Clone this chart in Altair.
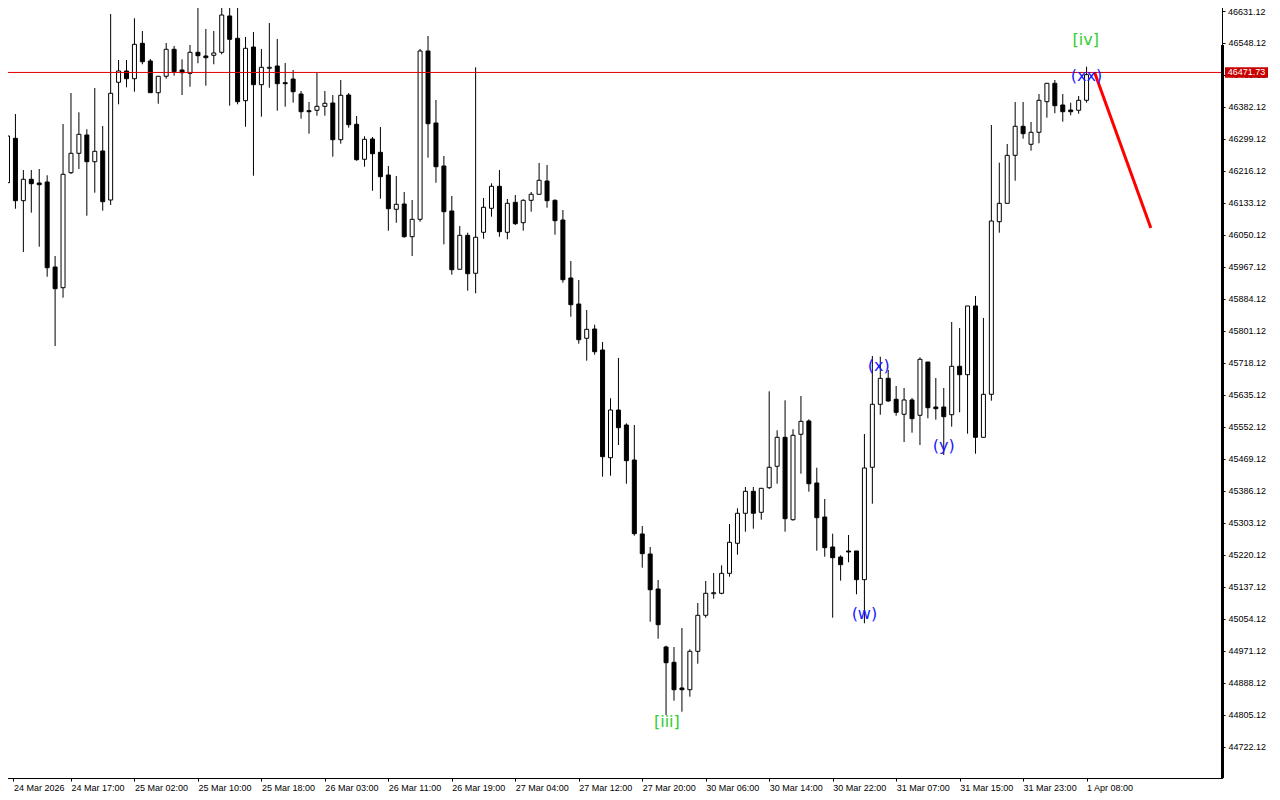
import altair as alt
import pandas as pd

# ---- hourly candles (index 0 .. 136) ----
opens = [46185.8, 46300.9, 46139.1, 46194.6, 46185.0, 46187.6, 45967.1, 45913.4, 46211.7, 46262.0,
         46309.5, 46240.2, 46268.0, 46140.9, 46446.2, 46475.5, 46455.5, 46547.3, 46501.4, 46419.2,
         46461.8, 46531.8, 46478.1, 46469.5, 46524.0, 46514.4, 46516.2, 46524.0, 46618.2, 46560.3,
         46398.5, 46537.7, 46440.0, 46482.5, 46488.5, 46445.2, 46454.7, 46415.8, 46372.5, 46373.6,
         46383.9, 46392.5, 46297.3, 46413.2, 46337.3, 46246.5, 46299.1, 46264.6, 46205.7, 46116.8,
         46130.5, 46045.7, 46090.8, 46527.4, 46340.6, 46229.1, 46112.4, 45961.2, 46049.3, 45950.8,
         46057.1, 46119.4, 46176.4, 46057.1, 46134.9, 46082.0, 46140.1, 46155.7, 46190.2, 46140.1,
         46089.0, 45938.6, 45871.1, 45782.2, 45806.3, 45751.8, 45472.5, 45596.2, 45557.3, 45466.5,
         45274.6, 45222.7, 45131.9, 44981.5, 44941.8, 44875.2, 44870.7, 44970.3, 45063.7, 45119.7,
         45120.8, 45172.6, 45250.5, 45328.3, 45385.3, 45330.9, 45394.7, 45450.2, 45525.4, 45311.7,
         45533.2, 45567.7, 45406.9, 45318.7, 45240.9, 45214.9, 45230.5, 45230.5, 45156.1, 45447.6,
         45611.0, 45678.4, 45624.0, 45585.1, 45622.2, 45582.5, 45720.7, 45604.0, 45604.0, 45584.0,
         45709.6, 45687.8, 45866.0, 45525.4, 45636.9, 46084.6, 46132.3, 46256.8, 46332.1, 46285.4,
         46316.5, 46395.9, 46443.6, 46387.3, 46374.3, 46373.6, 46399.5]
highs = [46353.6, 46364.0, 46218.7, 46218.7, 46221.3, 46205.0, 45995.6, 46338.0, 46418.4, 46368.4,
         46324.3, 46431.4, 46332.8, 46623.3, 46504.0, 46504.0, 46612.2, 46579.2, 46506.6, 46461.8,
         46548.1, 46540.3, 46505.8, 46542.9, 46655.0, 46584.4, 46579.2, 46660.0, 46660.0, 46658.0,
         46563.7, 46576.7, 46532.6, 46600.0, 46558.5, 46496.2, 46478.1, 46423.6, 46395.1, 46471.1,
         46423.6, 46413.2, 46452.2, 46418.4, 46358.8, 46306.1, 46304.3, 46330.2, 46229.1, 46203.2,
         46161.7, 46140.9, 46532.6, 46566.3, 46400.3, 46255.0, 46151.3, 46073.5, 46056.1, 46485.1,
         46146.1, 46184.2, 46218.7, 46143.5, 46153.9, 46142.7, 46161.7, 46236.9, 46231.7, 46142.7,
         46115.0, 45982.7, 45933.4, 45855.6, 45817.5, 45772.6, 45626.6, 45731.1, 45561.7, 45557.3,
         45295.3, 45240.9, 45155.3, 44984.9, 44981.5, 45030.8, 44975.5, 45095.6, 45152.7, 45173.4,
         45193.4, 45300.5, 45341.3, 45396.5, 45396.5, 45393.1, 45644.7, 45543.6, 45621.4, 45546.2,
         45632.5, 45572.1, 45446.5, 45365.4, 45275.4, 45219.3, 45272.0, 45230.5, 45534.0, 45736.3,
         45734.5, 45700.0, 45658.5, 45653.3, 45627.3, 45732.9, 45720.7, 45679.2, 45653.3, 45824.5,
         45808.9, 45866.0, 45891.9, 45834.8, 46335.4, 46237.7, 46286.2, 46395.1, 46395.1, 46343.2,
         46415.8, 46443.6, 46452.2, 46415.8, 46393.3, 46410.7, 46486.6]
lows = [46102.0, 46118.3, 46006.0, 46108.0, 46019.8, 45942.0, 45762.2, 45887.5, 46208.3, 46221.3,
        46100.2, 46159.8, 46113.2, 46127.9, 46389.1, 46433.2, 46421.8, 46492.9, 46419.2, 46390.7,
        46455.5, 46463.3, 46413.2, 46434.8, 46495.5, 46437.4, 46492.9, 46518.8, 46385.5, 46389.1,
        46331.0, 46203.9, 46357.0, 46432.2, 46372.5, 46382.9, 46393.3, 46351.8, 46312.9, 46359.6,
        46359.6, 46253.2, 46286.9, 46328.4, 46242.8, 46227.3, 46165.0, 46144.3, 46061.3, 46082.0,
        46043.1, 45995.6, 46084.6, 46250.6, 46185.8, 46026.0, 45947.1, 45961.2, 45905.6, 45898.9,
        46040.5, 46097.6, 46045.7, 46039.0, 46076.1, 46061.3, 46110.6, 46155.7, 46120.9, 46050.9,
        45926.4, 45838.2, 45768.2, 45724.1, 45739.6, 45423.2, 45425.8, 45505.4, 45405.0, 45270.2,
        45187.2, 45047.1, 45003.0, 44805.1, 44842.2, 44813.7, 44852.6, 44938.2, 45057.5, 45106.8,
        45118.2, 45163.8, 45220.9, 45280.6, 45288.3, 45311.7, 45391.3, 45405.0, 45280.6, 45309.1,
        45431.0, 45384.3, 45231.3, 45215.7, 45057.5, 45153.5, 45201.2, 45118.2, 45043.0, 45353.2,
        45584.0, 45617.7, 45581.4, 45513.2, 45537.3, 45505.4, 45574.7, 45571.1, 45479.5, 45552.9,
        45590.2, 45534.7, 45482.9, 45525.4, 45620.3, 46056.1, 46132.3, 46191.0, 46299.9, 46268.8,
        46288.0, 46354.4, 46365.8, 46344.0, 46360.6, 46364.7, 46393.3]
closes = [46306.9, 46139.1, 46194.6, 46183.2, 46180.6, 45965.3, 45910.8, 46207.6, 46262.0, 46311.3,
          46240.2, 46267.2, 46136.5, 46417.7, 46475.5, 46455.5, 46544.7, 46499.6, 46419.2, 46461.8,
          46531.8, 46473.7, 46471.1, 46524.0, 46515.2, 46510.0, 46522.2, 46620.7, 46557.7, 46395.9,
          46534.4, 46440.0, 46485.1, 46485.1, 46442.6, 46442.6, 46421.8, 46369.9, 46369.9, 46383.9,
          46391.7, 46297.3, 46412.5, 46336.2, 46245.4, 46298.3, 46261.0, 46201.3, 46118.3, 46129.7,
          46045.7, 46090.8, 46527.4, 46338.8, 46227.3, 46110.6, 45960.1, 46049.3, 45949.7, 46044.2,
          46122.0, 46176.4, 46058.7, 46132.3, 46079.4, 46140.1, 46155.7, 46192.0, 46139.1, 46087.2,
          45934.2, 45869.3, 45778.5, 45805.5, 45747.4, 45475.1, 45596.2, 45550.3, 45464.7, 45275.4,
          45223.5, 45130.1, 45039.3, 44940.8, 44870.7, 44870.7, 44970.3, 45063.7, 45120.8, 45122.3,
          45172.6, 45253.1, 45328.3, 45385.3, 45328.3, 45393.1, 45447.6, 45525.4, 45314.3, 45530.6,
          45566.9, 45405.0, 45316.9, 45239.1, 45213.1, 45195.0, 45227.9, 45156.1, 45445.8, 45611.0,
          45678.4, 45619.6, 45590.2, 45622.2, 45573.7, 45727.7, 45602.2, 45599.6, 45578.9, 45709.6,
          45687.8, 45866.0, 45525.4, 45636.9, 46086.4, 46132.3, 46256.8, 46332.1, 46312.9, 46316.5,
          46399.5, 46443.6, 46385.5, 46369.9, 46369.9, 46399.5, 46466.0]

# ---- axis labels ----
time_labels = ["24 Mar 2026", "24 Mar 17:00", "25 Mar 02:00", "25 Mar 10:00", "25 Mar 18:00",
               "26 Mar 03:00", "26 Mar 11:00", "26 Mar 19:00", "27 Mar 04:00", "27 Mar 12:00",
               "27 Mar 20:00", "30 Mar 06:00", "30 Mar 14:00", "30 Mar 22:00", "31 Mar 07:00",
               "31 Mar 15:00", "31 Mar 23:00", "1 Apr 08:00"]
time_label_index = [0.75, 8, 16, 24, 32, 40, 48, 56, 64, 72, 80, 88, 96, 104, 112, 120, 128, 136]
price_ticks = [44722.12, 44805.12, 44888.12, 44971.12, 45054.12, 45137.12, 45220.12, 45303.12,
               45386.12, 45469.12, 45552.12, 45635.12, 45718.12, 45801.12, 45884.12, 45967.12,
               46050.12, 46133.12, 46216.12, 46299.12, 46382.12, 46465.12, 46548.12, 46631.12]
top_tick = 46631.12  # drawn as its own text so that it is not cut at the page margin

# ---- overlays ----
bid_price = 46471.73
forecast_k = [137.0, 144.1]
forecast_price = [46472.0, 46068.0]

wave_text = ["[iii]", "[iv]", "(w)", "(x)", "(y)", "(xx)"]
wave_k = [83.1, 135.9, 108.0, 109.8, 118.0, 136.0]
wave_price = [44787.0, 46556.0, 45067.0, 45710.0, 45503.0, 46462.0]
wave_group = ["green", "green", "blue", "blue", "blue", "blue"]

# visible-range marker on the price scale (thick part of the right border)
scale_bar_top = 46542.9

candles = pd.DataFrame({
    "k": list(range(len(opens))),
    "open": opens, "high": highs, "low": lows, "close": closes,
})
candles["dir"] = ["down" if o > c else "up" for o, c in zip(opens, closes)]

forecast = pd.DataFrame({"k": forecast_k, "price": forecast_price})
waves = pd.DataFrame({"k": wave_k, "price": wave_price, "text": wave_text, "grp": wave_group})

PLOT_W, PLOT_H = 1220, 776
XD = [-0.0625, 152.4375]
YD = [44641.71, 46654.46]

labels_js = "[" + ",".join("'" + s + "'" for s in time_labels) + "]"

xscale = alt.Scale(domain=XD, nice=False, zero=False)
yscale = alt.Scale(domain=YD, nice=False, zero=False)

x_axis = alt.Axis(values=time_label_index, labelExpr=labels_js + "[round(datum.value/8)]",
                  labelAlign="left", labelBaseline="top", labelPadding=2,
                  tickSize=3, title=None, labelOverlap=False, labelFlush=False)
y_axis = alt.Axis(orient="right", values=price_ticks, tickSize=3,
                  labelExpr="datum.value > %s ? '' : format(datum.value, '.2f')" % (top_tick - 1),
                  labelPadding=3, title=None, labelOverlap=False, labelBaseline="middle")

X = alt.X("k:Q", scale=xscale, axis=x_axis)
Y = alt.Y("low:Q", scale=yscale, axis=y_axis)

wicks = alt.Chart(candles).mark_rule(color="black", strokeWidth=1, clip=True).encode(
    x=X, y=Y, y2="high:Q")

bodies = alt.Chart(candles).mark_bar(size=4, stroke="black", strokeWidth=1, clip=True).encode(
    x=X,
    y=alt.Y("open:Q", scale=yscale, axis=y_axis),
    y2="close:Q",
    fill=alt.Fill("dir:N", scale=alt.Scale(domain=["up", "down"], range=["white", "black"]),
                  legend=None),
)

bid_line = alt.Chart(pd.DataFrame({"p": [bid_price]})).mark_rule(
    color="#e00000", strokeWidth=1).encode(y=alt.Y("p:Q", scale=yscale, axis=y_axis))

fc_line = alt.Chart(forecast).mark_line(color="#ff0000", strokeWidth=3).encode(
    x=alt.X("k:Q", scale=xscale, axis=x_axis),
    y=alt.Y("price:Q", scale=yscale, axis=y_axis))

wave_labels = alt.Chart(waves).mark_text(font="DejaVu Sans", fontSize=16, baseline="middle",
                                         align="center").encode(
    x=alt.X("k:Q", scale=xscale, axis=x_axis),
    y=alt.Y("price:Q", scale=yscale, axis=y_axis),
    text="text:N",
    color=alt.Color("grp:N", scale=alt.Scale(domain=["green", "blue"],
                                              range=["#32cd32", "#1a1aff"]), legend=None),
)

top_df = pd.DataFrame({"p": [top_tick], "t": ["%.2f" % top_tick]})
top_label = alt.Chart(top_df).mark_text(font="Liberation Sans", fontSize=9, color="black",
                                        align="left", baseline="middle", dy=1.5).encode(
    x=alt.value(PLOT_W + 6), y=alt.Y("p:Q", scale=yscale, axis=y_axis), text="t:N")

bar_df = pd.DataFrame({"top": [scale_bar_top], "bottom": [YD[0]]})
scale_bar = alt.Chart(bar_df).mark_rect(color="black").encode(
    x=alt.value(PLOT_W - 1), x2=alt.value(PLOT_W + 2),
    y=alt.Y("top:Q", scale=yscale, axis=y_axis), y2="bottom:Q")

tag_df = pd.DataFrame({"p": [bid_price], "p1": [bid_price + 13.5], "p2": [bid_price - 13.5],
                       "t": ["46471.73"]})
tag_box = alt.Chart(tag_df).mark_rect(color="#c80000").encode(
    x=alt.value(PLOT_W + 3), x2=alt.value(PLOT_W + 46),
    y=alt.Y("p1:Q", scale=yscale, axis=y_axis), y2="p2:Q")
tag_text = alt.Chart(tag_df).mark_text(color="white", font="Liberation Sans", fontSize=9,
                                       align="center", baseline="middle").encode(
    x=alt.value(PLOT_W + 24.5), y=alt.Y("p:Q", scale=yscale, axis=y_axis), text="t:N")

chart = alt.layer(wicks, bodies, bid_line, fc_line, wave_labels, top_label, scale_bar, tag_box,
                  tag_text).resolve_scale(
    fill="independent", color="independent"
).properties(
    width=PLOT_W, height=PLOT_H, background="white",
    autosize=alt.AutoSizeParams(type="none"),
    padding={"left": -6, "top": -6, "right": 50, "bottom": 16},
).configure_view(
    stroke="black", strokeWidth=1
).configure_axis(
    labelFont="Liberation Sans", labelFontSize=9, labelColor="black",
    tickColor="black", domainColor="black", grid=False
)

chart.save("out.html", embed_options={"renderer": "svg", "actions": False})
